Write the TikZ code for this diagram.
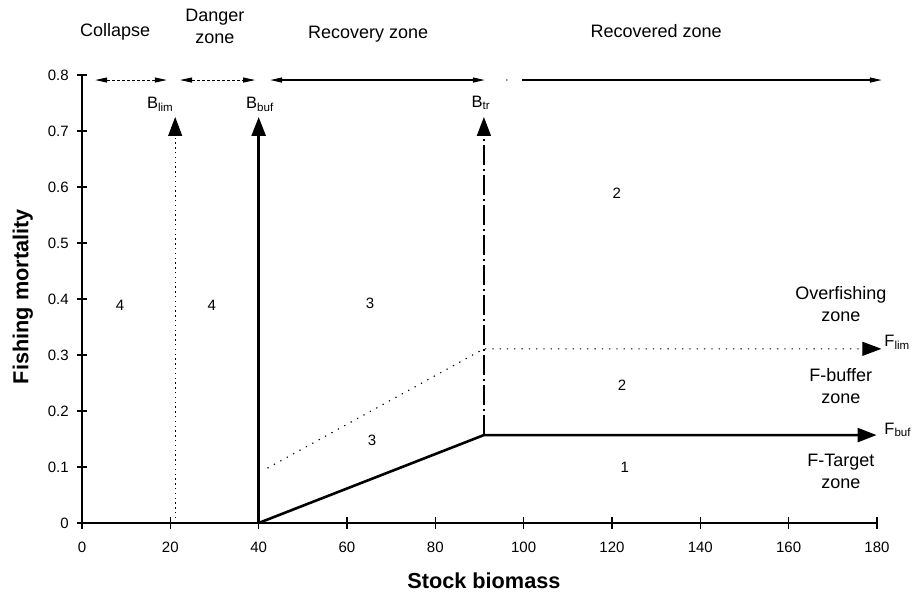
\documentclass[tikz,border=0pt]{standalone}
\usepackage{fontspec}
\setmainfont{Liberation Sans}
\usetikzlibrary{arrows.meta}

\begin{document}
\begin{tikzpicture}[x=4.4167pt, y=560pt, font=\fontsize{15}{17}\selectfont,
  zonetxt/.style={font=\fontsize{18}{22}\selectfont, align=center},
  reftxt/.style={font=\fontsize{16.5}{18}\selectfont},
  axistxt/.style={font=\bfseries\fontsize{21.7}{24}\selectfont},
  bigtip/.style={-{Triangle[length=19pt,width=14pt]}},
  smalltips/.style={{Triangle[length=12pt,width=5pt]}-{Triangle[length=12pt,width=5pt]}},
  smalltip/.style={-{Triangle[length=12pt,width=5pt]}}]
\useasboundingbox (-18.566,-0.1375) rectangle (189.74,0.93393);

% Axes
\draw[line width=1.2pt] (0,0) -- (180,0);
\draw[line width=1.2pt] (0,0) -- (0,0.8);
\foreach \x in {0,20,...,180} {
  \draw[line width=1.2pt] (\x,-0.011) -- (\x,0.011);
  \node (xl\x) at (\x,-0.043) {\x};
}
\foreach \f/\lab in {0/0,0.1/0.1,0.2/0.2,0.3/0.3,0.4/0.4,0.5/0.5,0.6/0.6,0.7/0.7,0.8/0.8} {
  \draw[line width=1.2pt] (-1.1,\f) -- (1.1,\f);
  \node[anchor=east] (yl\lab) at (-2.2,\f) {\lab};
}
\node[axistxt] (xlab) at (91,-0.104) {Stock biomass};
\node[axistxt, rotate=90] (ylab) at (-13.4,0.404) {Fishing mortality};

% Zones en haut
\node[zonetxt] (collapse) at (7.5,0.877) {Collapse};
\node[zonetxt] (danger) at (30.1,0.886) {Danger\\zone};
\node[zonetxt] (recovery) at (64.8,0.873) {Recovery zone};
\node[zonetxt] (recovered) at (130,0.879) {Recovered zone};
\draw[smalltips, line width=0.9pt, dash pattern=on 3pt off 2pt] (3,0.791) -- (19.2,0.791);
\draw[smalltips, line width=0.9pt, dash pattern=on 3pt off 2pt] (22.2,0.791) -- (39.2,0.791);
\draw[smalltips, line width=1.3pt] (42.6,0.791) -- (91.2,0.791);
\fill (96.2,0.791) circle (0.8pt);
\draw[smalltip, line width=1.3pt] (99.6,0.791) -- (181.1,0.791);

% Points de reference
\draw[bigtip, line width=1.1pt, dash pattern=on 1.3pt off 3.5pt] (21.1,0) -- (21.1,0.725);
\draw[bigtip, line width=2.6pt] (40,0) -- (40,0.725);
\draw[bigtip, line width=1.7pt, dash pattern=on 20pt off 4pt on 2pt off 4pt] (91,0.157) -- (91,0.725);
\node[reftxt] (blim) at (17.7,0.748) {B\textsubscript{lim}};
\node[reftxt] (bbuf) at (40.3,0.748) {B\textsubscript{buf}};
\node[reftxt] (btr) at (90.3,0.750) {B\textsubscript{tr}};

% Regles
\draw[bigtip, line width=2.6pt] (40,0) -- (91,0.157) -- (179.9,0.157);
\draw[bigtip, line width=1.1pt, dash pattern=on 1.3pt off 6pt] (42,0.098) -- (91,0.311) -- (181,0.311);
\node[reftxt, anchor=west] (flim) at (180.9,0.323) {F\textsubscript{lim}};
\node[reftxt, anchor=west] (fbuf) at (180.9,0.166) {F\textsubscript{buf}};

% Cases
\foreach \x/\f/\n in {8.6/0.389/4, 29.4/0.389/4, 65.2/0.393/3, 121.1/0.589/2, 122.3/0.246/2, 65.7/0.148/3, 122.9/0.1/1} {
  \node (n\n) at (\x,\f) {\n};
}
\node[zonetxt] (overf) at (171.8,0.391) {Overfishing\\zone};
\node[zonetxt] (fbuffer) at (171.8,0.245) {F-buffer\\zone};
\node[zonetxt] (ftarget) at (171.8,0.093) {F-Target\\zone};

\end{tikzpicture}
\end{document}
